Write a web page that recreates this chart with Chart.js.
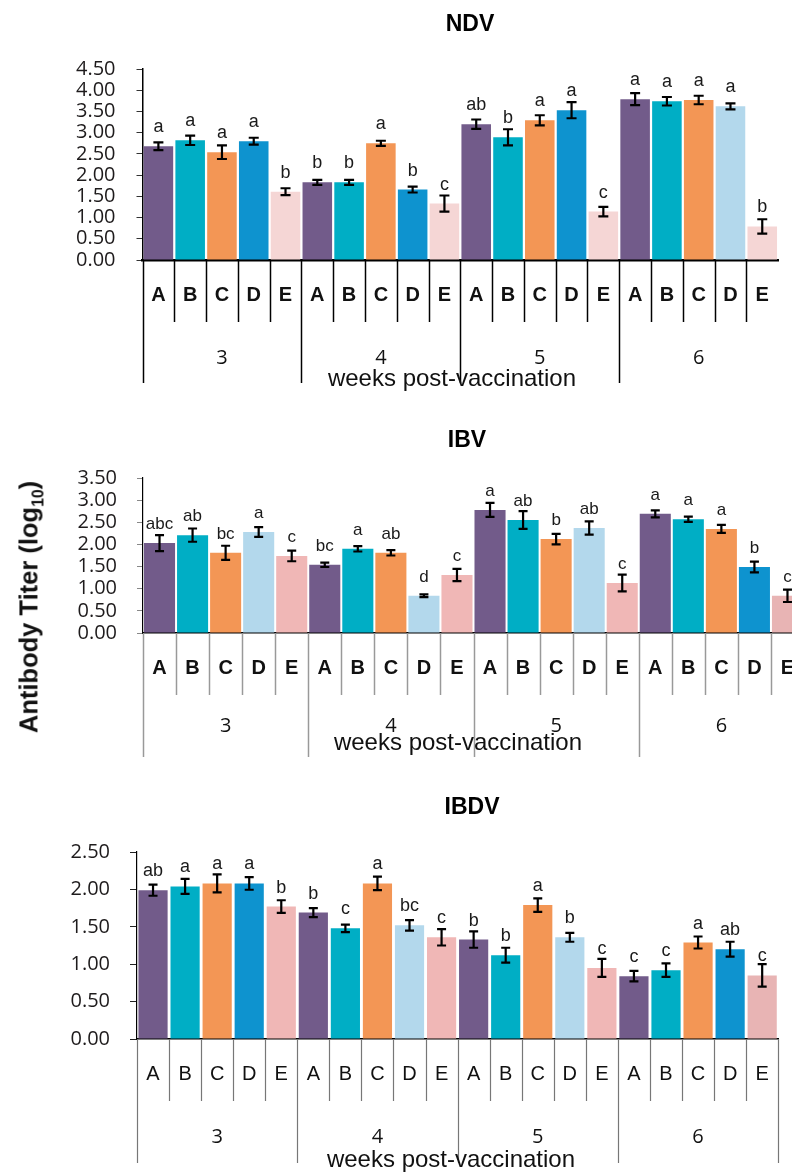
<!DOCTYPE html>
<html>
<head>
<meta charset="utf-8">
<script src="https://cdn.jsdelivr.net/npm/chart.js@4.4.1/dist/chart.umd.min.js"></script>
<style>
  html, body { margin: 0; padding: 0; background: #fff; }
  body { position: relative; width: 792px; height: 1172px; overflow: hidden; }
  .panel { position: absolute; left: 0; }
  #ylab {
    position: absolute; left: 31px; top: 607px;
    transform: translate(-50%, -50%) rotate(-90deg);
    white-space: nowrap; font: bold 25.5px "Liberation Sans", Arial, sans-serif; color: #111;
  }
  #ylab sub { font-size: 0.62em; }
</style>
</head>
<body>
<div class="panel" style="top:0"><canvas id="ndv" width="792" height="395"></canvas></div>
<div class="panel" style="top:420px"><canvas id="ibv" width="820" height="345"></canvas></div>
<div class="panel" style="top:790px"><canvas id="ibdv" width="792" height="382"></canvas></div>
<div id="ylab">Antibody Titer (log<sub>10</sub>)</div>

<script>
(function () {
    'use strict';

    // ---- data ----
    var weeks = ['3', '4', '5', '6'];
    var groups = ['A', 'B', 'C', 'D', 'E'];

    var ndvMean = [2.68, 2.82, 2.54, 2.80, 1.61, 1.83, 1.83, 2.75, 1.66, 1.33,
                   3.20, 2.89, 3.29, 3.53, 1.14, 3.79, 3.74, 3.77, 3.62, 0.79];
    var ndvErr = [0.09, 0.11, 0.16, 0.08, 0.08, 0.06, 0.06, 0.06, 0.07, 0.19,
                  0.11, 0.19, 0.12, 0.19, 0.11, 0.14, 0.10, 0.10, 0.07, 0.17];
    var ndvLetters = ['a', 'a', 'a', 'a', 'b', 'b', 'b', 'a', 'b', 'c',
                      'ab', 'b', 'a', 'a', 'c', 'a', 'a', 'a', 'a', 'b'];

    var ibvMean = [2.03, 2.21, 1.81, 2.28, 1.74, 1.54, 1.90, 1.81, 0.84, 1.31,
                   2.78, 2.55, 2.12, 2.37, 1.13, 2.69, 2.57, 2.35, 1.49, 0.84];
    var ibvErr = [0.18, 0.15, 0.16, 0.11, 0.12, 0.05, 0.06, 0.06, 0.03, 0.14,
                  0.16, 0.20, 0.12, 0.15, 0.19, 0.08, 0.06, 0.09, 0.12, 0.14];
    var ibvLetters = ['abc', 'ab', 'bc', 'a', 'c', 'bc', 'a', 'ab', 'd', 'c',
                      'a', 'ab', 'b', 'ab', 'c', 'a', 'a', 'a', 'b', 'c'];

    var ibdvMean = [1.99, 2.04, 2.08, 2.08, 1.77, 1.69, 1.48, 2.08, 1.52, 1.36,
                    1.33, 1.12, 1.79, 1.36, 0.95, 0.84, 0.92, 1.29, 1.20, 0.85];
    var ibdvErr = [0.075, 0.10, 0.12, 0.085, 0.085, 0.06, 0.05, 0.09, 0.07, 0.11,
                   0.11, 0.10, 0.09, 0.06, 0.12, 0.07, 0.09, 0.08, 0.10, 0.15];
    var ibdvLetters = ['ab', 'a', 'a', 'a', 'b', 'b', 'c', 'a', 'bc', 'c',
                       'b', 'b', 'a', 'b', 'c', 'c', 'c', 'a', 'ab', 'c'];

    // ---- colours ----
    var PURPLE = '#725b8a', TEAL = '#00aec5', ORANGE = '#f39655',
        BLUE = '#0e93cf', LIGHTBLUE = '#b3d8ec',
        PALEPINK = '#f5d6d5', PINK = '#f0b7b6', DUSKPINK = '#e8b4b4';

    // D and E shade per week, per panel
    function barColors(dShades, eShades) {
        var out = [];
        weeks.forEach(function (w, wi) {
            out.push(PURPLE, TEAL, ORANGE, dShades[wi], eShades[wi]);
        });
        return out;
    }

    var labels = [];
    weeks.forEach(function () { labels = labels.concat(groups); });

    var SANS = '"Liberation Sans", Arial, sans-serif';
    var TICKFONT = '"Open Sans", "Liberation Sans", sans-serif';

    var decor = {
        id: 'decor',
        afterDatasetsDraw: function (chart, args, o) {
            var ctx = chart.ctx, y = chart.scales.y;
            var meta = chart.getDatasetMeta(0);
            var vals = chart.data.datasets[0].data;
            ctx.save();
            ctx.strokeStyle = '#000';
            ctx.lineWidth = o.errWidth;
            meta.data.forEach(function (bar, i) {
                var yt = y.getPixelForValue(vals[i] + o.err[i]);
                var yb = y.getPixelForValue(vals[i] - o.err[i]);
                var c = o.capW / 2;
                ctx.beginPath();
                ctx.moveTo(bar.x, yt); ctx.lineTo(bar.x, yb);
                ctx.moveTo(bar.x - c, yt); ctx.lineTo(bar.x + c, yt);
                ctx.moveTo(bar.x - c, yb); ctx.lineTo(bar.x + c, yb);
                ctx.stroke();
            });
            ctx.fillStyle = '#1a1a1a';
            ctx.font = o.letterFont;
            ctx.textAlign = 'center';
            ctx.textBaseline = 'alphabetic';
            meta.data.forEach(function (bar, i) {
                ctx.fillText(o.letters[i], bar.x, bar.y - 14);
            });
            ctx.restore();
        },
        afterDraw: function (chart, args, o) {
            var ctx = chart.ctx, x = chart.scales.x;
            var bottom = chart.chartArea.bottom;
            var w = x.getPixelForValue(1) - x.getPixelForValue(0);
            ctx.save();
            // separators between categories, longer between weeks
            ctx.strokeStyle = o.sepColor;
            ctx.lineWidth = o.sepWidth;
            for (var i = 0; i <= labels.length; i++) {
                if (i === labels.length && !o.lastSep) continue;
                var px = Math.round(x.getPixelForValue(Math.min(i, labels.length - 1)) + (i === labels.length ? w / 2 : -w / 2)) + 0.5;
                var len = i % 5 === 0 ? o.longLen : o.shortLen;
                ctx.beginPath();
                ctx.moveTo(px, bottom);
                ctx.lineTo(px, bottom + len);
                ctx.stroke();
            }
            // week labels
            ctx.fillStyle = '#111';
            ctx.textAlign = 'center';
            ctx.textBaseline = 'middle';
            ctx.font = '20px ' + TICKFONT;
            weeks.forEach(function (wk, g) {
                var cx = (x.getPixelForValue(g * 5) + x.getPixelForValue(g * 5 + 4)) / 2;
                ctx.fillText(wk, cx, bottom + o.weekDy);
            });
            // axis title
            ctx.font = '24px ' + SANS;
            ctx.fillText('weeks post-vaccination', o.xTitleX, bottom + o.xTitleDy);
            // panel title
            ctx.font = 'bold 23px ' + SANS;
            ctx.fillStyle = '#000';
            ctx.fillText(o.title, o.titleX, o.titleY);
            ctx.restore();
        }
    };

    function makeChart(id, p) {
        var el = document.getElementById(id);
        return new Chart(el, {
            type: 'bar',
            data: {
                labels: labels,
                datasets: [{
                    data: p.mean,
                    backgroundColor: p.colors,
                    borderWidth: 0,
                    barPercentage: p.barPct,
                    categoryPercentage: 1
                }]
            },
            options: {
                responsive: false,
                animation: false,
                events: [],
                layout: { padding: { top: p.top, right: p.right, left: 0, bottom: 0 } },
                plugins: {
                    legend: { display: false },
                    tooltip: { enabled: false },
                    decor: p.decor
                },
                scales: {
                    x: {
                        grid: { display: false, drawTicks: false },
                        border: { display: true, color: '#000', width: p.xAxisWidth },
                        ticks: {
                            autoSkip: false, maxRotation: 0, padding: 23,
                            color: '#111',
                            font: { family: SANS, size: 20, weight: p.catWeight }
                        },
                        afterFit: function (s) { s.height = p.xHeight; }
                    },
                    y: {
                        min: 0, max: p.max,
                        grid: { drawOnChartArea: false, drawTicks: true, tickLength: p.tickLen, color: p.tickColor },
                        border: { display: true, color: '#000', width: p.yAxisWidth },
                        ticks: {
                            stepSize: 0.5, autoSkip: false, padding: p.tickPad, color: '#1e1b1c',
                            font: { family: TICKFONT, size: 20, lineHeight: 1 },
                            callback: function (v) { return Number(v).toFixed(2); }
                        },
                        afterFit: function (s) { s.width = p.left; }
                    }
                }
            },
            plugins: [decor]
        });
    }

    makeChart('ndv', {
        mean: ndvMean, max: 4.5, top: 69, right: 3, left: 142.5, xHeight: 135,
        barPct: 0.93, xAxisWidth: 2.5, yAxisWidth: 1.5, catWeight: 'bold',
        tickLen: 6, tickPad: 21, tickColor: '#333',
        colors: barColors([BLUE, BLUE, BLUE, LIGHTBLUE], [PALEPINK, PALEPINK, PALEPINK, PALEPINK]),
        decor: {
            err: ndvErr, letters: ndvLetters, letterFont: '18px ' + SANS,
            errWidth: 2.2, capW: 10, sepColor: '#000', sepWidth: 1.5,
            shortLen: 62, longLen: 123, lastSep: false,
            weekDy: 98, xTitleX: 452, xTitleDy: 119,
            title: 'NDV', titleX: 470, titleY: 25
        }
    });

    makeChart('ibv', {
        mean: ibvMean, max: 3.5, top: 58, right: 16, left: 143, xHeight: 132,
        barPct: 0.94, xAxisWidth: 1.5, yAxisWidth: 1.2, catWeight: 'bold',
        tickLen: 6, tickPad: 20, tickColor: '#888',
        colors: barColors([LIGHTBLUE, LIGHTBLUE, LIGHTBLUE, BLUE], [PINK, PINK, PINK, DUSKPINK]),
        decor: {
            err: ibvErr, letters: ibvLetters, letterFont: '17px ' + SANS,
            errWidth: 2.2, capW: 9, sepColor: '#999', sepWidth: 1.5,
            shortLen: 62, longLen: 124, lastSep: true,
            weekDy: 93, xTitleX: 458, xTitleDy: 110,
            title: 'IBV', titleX: 467, titleY: 21
        }
    });

    makeChart('ibdv', {
        mean: ibdvMean, max: 2.5, top: 62, right: 6, left: 137, xHeight: 133,
        barPct: 0.91, xAxisWidth: 1.5, yAxisWidth: 1.2, catWeight: 'normal',
        tickLen: 7, tickPad: 20, tickColor: '#222',
        colors: barColors([BLUE, LIGHTBLUE, LIGHTBLUE, BLUE], [PINK, PINK, PINK, DUSKPINK]),
        decor: {
            err: ibdvErr, letters: ibdvLetters, letterFont: '18px ' + SANS,
            errWidth: 2.2, capW: 9, sepColor: '#777', sepWidth: 1.2,
            shortLen: 62, longLen: 124, lastSep: true,
            weekDy: 98, xTitleX: 451, xTitleDy: 121,
            title: 'IBDV', titleX: 472, titleY: 18
        }
    });
})();
</script>
</body>
</html>
